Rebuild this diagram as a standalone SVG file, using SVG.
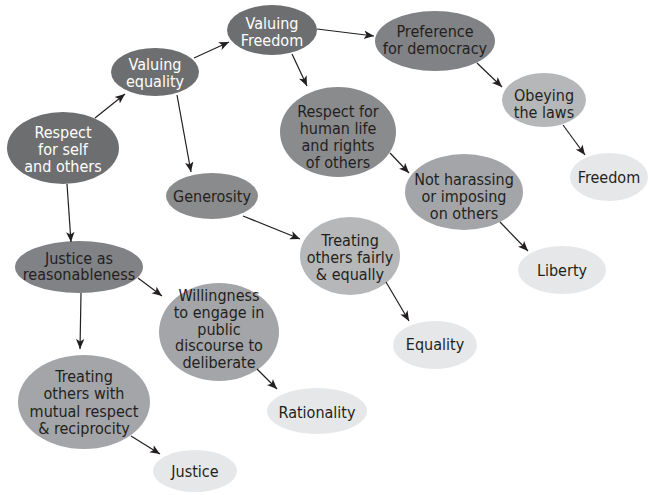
<svg xmlns="http://www.w3.org/2000/svg" width="649" height="495" viewBox="0 0 649 495">
<defs>
<marker id="ah" viewBox="0 0 10 10" refX="10" refY="5" markerWidth="10" markerHeight="10" markerUnits="userSpaceOnUse" orient="auto">
<path d="M0,0.8 L10,5 L0,9.2 L2.5,5 Z" fill="#231f20"/>
</marker>
<style>
text{font-family:"DejaVu Sans Condensed","Liberation Sans",Arial,sans-serif;font-stretch:condensed;font-size:16px;text-anchor:middle}
.w{fill:#ffffff}
.d{fill:#231f20}
.c1{fill:#6d6e70}
.c2{fill:#818285}
.c3{fill:#8a8b8d}
.c4{fill:#a4a5a8}
.c5{fill:#b6b7b9}
.c6{fill:#e6e7e8}
#edges line{stroke:#231f20;stroke-width:1.2;marker-end:url(#ah)}
</style>
</defs>
<rect width="649" height="495" fill="#ffffff"/>
<g id="n1"><ellipse class="c1" cx="63" cy="148" rx="56" ry="36"/>
<text class="w"><tspan x="63" y="138">Respect</tspan><tspan x="63" y="155">for self</tspan><tspan x="63" y="172">and others</tspan></text></g>
<g id="n2"><ellipse class="c1" cx="155" cy="72" rx="44" ry="24"/>
<text class="w"><tspan x="155" y="70">Valuing</tspan><tspan x="155" y="87">equality</tspan></text></g>
<g id="n3"><ellipse class="c1" cx="272" cy="30" rx="45" ry="25"/>
<text class="w"><tspan x="272" y="29">Valuing</tspan><tspan x="272" y="46">Freedom</tspan></text></g>
<g id="n4"><ellipse class="c2" cx="435" cy="41" rx="60" ry="30"/>
<text class="d"><tspan x="435" y="37">Preference</tspan><tspan x="435" y="54">for democracy</tspan></text></g>
<g id="n5"><ellipse class="c3" cx="338" cy="132" rx="58" ry="45"/>
<text class="d"><tspan x="338" y="117">Respect for</tspan><tspan x="338" y="134">human life</tspan><tspan x="338" y="151">and rights</tspan><tspan x="338" y="168">of others</tspan></text></g>
<g id="n6"><ellipse class="c3" cx="212" cy="196" rx="46" ry="23"/>
<text class="d" x="212" y="202">Generosity</text></g>
<g id="n7"><ellipse class="c5" cx="544" cy="100" rx="42" ry="27"/>
<text class="d"><tspan x="544" y="101">Obeying</tspan><tspan x="544" y="118">the laws</tspan></text></g>
<g id="n8"><ellipse class="c6" cx="609" cy="177" rx="39" ry="24"/>
<text class="d" x="609" y="183">Freedom</text></g>
<g id="n9"><ellipse class="c4" cx="464" cy="192" rx="59" ry="38"/>
<text class="d"><tspan x="464" y="185">Not harassing</tspan><tspan x="464" y="202">or imposing</tspan><tspan x="464" y="219">on others</tspan></text></g>
<g id="n10"><ellipse class="c6" cx="562" cy="270" rx="44" ry="24"/>
<text class="d" x="562" y="276">Liberty</text></g>
<g id="n11"><ellipse class="c5" cx="350" cy="256" rx="50" ry="39"/>
<text class="d"><tspan x="350" y="246">Treating</tspan><tspan x="350" y="263">others fairly</tspan><tspan x="350" y="280">&amp; equally</tspan></text></g>
<g id="n12"><ellipse class="c6" cx="435" cy="345" rx="42" ry="24"/>
<text class="d" x="435" y="350">Equality</text></g>
<g id="n13"><ellipse class="c2" cx="79" cy="267" rx="64" ry="26"/>
<text class="d"><tspan x="79" y="264">Justice as</tspan><tspan x="79" y="280">reasonableness</tspan></text></g>
<g id="n14"><ellipse class="c4" cx="219" cy="332" rx="60" ry="49"/>
<text class="d"><tspan x="219" y="301">Willingness</tspan><tspan x="219" y="318">to engage in</tspan><tspan x="219" y="335">public</tspan><tspan x="219" y="351">discourse to</tspan><tspan x="219" y="368">deliberate</tspan></text></g>
<g id="n15"><ellipse class="c6" cx="317" cy="411" rx="50" ry="23"/>
<text class="d" x="317" y="418">Rationality</text></g>
<g id="n16"><ellipse class="c4" cx="84" cy="402" rx="66" ry="47"/>
<text class="d"><tspan x="84" y="382">Treating</tspan><tspan x="84" y="399">others with</tspan><tspan x="84" y="417">mutual respect</tspan><tspan x="84" y="434">&amp; reciprocity</tspan></text></g>
<g id="n17"><ellipse class="c6" cx="195" cy="471" rx="42" ry="21"/>
<text class="d" x="195" y="477">Justice</text></g>
<g id="edges">
<line x1="95" y1="118" x2="125" y2="94"/>
<line x1="194" y1="58" x2="229" y2="42"/>
<line x1="292" y1="54" x2="307" y2="86"/>
<line x1="317" y1="29" x2="374" y2="36"/>
<line x1="177" y1="95" x2="191" y2="172"/>
<line x1="67" y1="184" x2="71" y2="242"/>
<line x1="243" y1="216" x2="300" y2="239"/>
<line x1="477" y1="63" x2="502" y2="87"/>
<line x1="563" y1="125" x2="585" y2="155"/>
<line x1="390" y1="153" x2="409" y2="173"/>
<line x1="500" y1="222" x2="528" y2="251"/>
<line x1="386" y1="282" x2="409" y2="321"/>
<line x1="138" y1="278" x2="162" y2="296"/>
<line x1="81" y1="293" x2="80" y2="349"/>
<line x1="257" y1="369" x2="277" y2="389"/>
<line x1="131" y1="436" x2="160" y2="454"/>
</g>
</svg>
